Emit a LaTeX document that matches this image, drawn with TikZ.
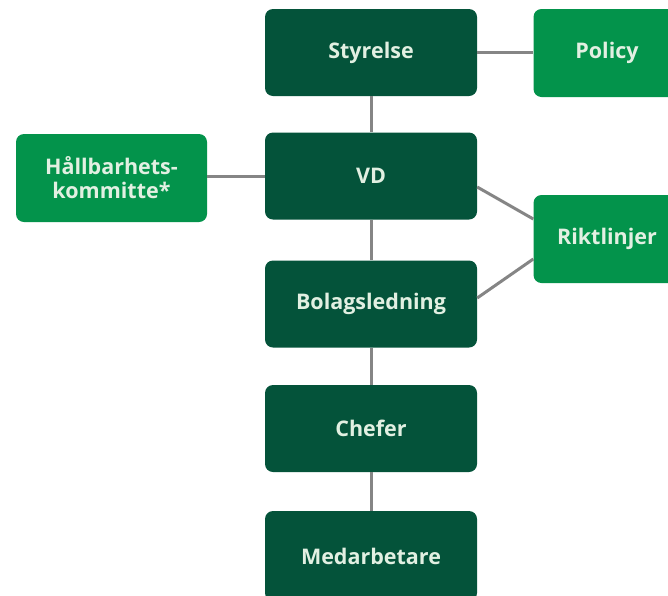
\documentclass[tikz,border=0pt]{standalone}
\usepackage{fontspec}
\setmainfont{Open Sans}
\usetikzlibrary{calc}
\definecolor{dkgreen}{HTML}{04533A}
\definecolor{ltgreen}{HTML}{03934B}
\definecolor{txt}{HTML}{E2F0E2}
\definecolor{conn}{HTML}{858585}
\begin{document}
\begin{tikzpicture}[x=1pt,y=-1pt,
  box/.style={rectangle,rounded corners=8pt,inner sep=0pt,text=txt,
    font=\bfseries\fontsize{21.5}{24}\selectfont,align=center},
  dark/.style={box,fill=dkgreen,minimum width=212pt,minimum height=87pt},
  light/.style={box,fill=ltgreen},
  link/.style={draw=conn,line width=3pt}]
\useasboundingbox (0,0) rectangle (668,595);
\node[light,minimum width=147pt,minimum height=88pt] (policy) at (607,53) {Policy};
\node[light,minimum width=147pt,minimum height=88pt] (rikt) at (607,239) {Riktlinjer};
\node[light,minimum width=191pt,minimum height=88pt] (hall) at (111.5,178) {Hållbarhets-\\kommitte*};
\node[dark] (sty) at (371,52.5) {Styrelse};
\node[dark] (vd) at (371,176) {VD};
\node[dark] (bol) at (371,304) {Bolagsledning};
\node[dark] (chef) at (371,428.5) {Chefer};
\node[dark,minimum height=90pt] (med) at (371,556) {Medarbetare};
\path[link] (sty.east) -- (policy.west |- sty.east);
\path[link] (sty.south) -- (vd.north);
\path[link] (vd.south) -- (bol.north);
\path[link] (bol.south) -- (chef.north);
\path[link] (chef.south) -- (med.north);
\path[link] (hall.east |- vd.west) -- (vd.west);
\path[link] ($(vd.east)+(0,11)$) -- ($(rikt.west)+(0,-20)$);
\path[link] ($(bol.east)+(0,-6)$) -- ($(rikt.west)+(0,20)$);
\end{tikzpicture}
\end{document}
